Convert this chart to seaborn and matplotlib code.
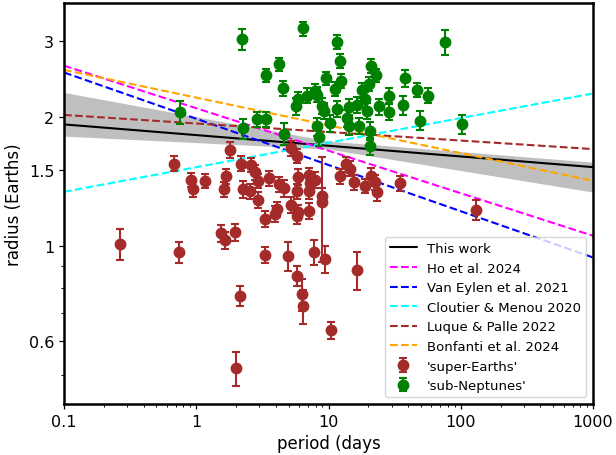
import numpy as np
import matplotlib
matplotlib.use('Agg')
import matplotlib.pyplot as plt
import seaborn as sns
from matplotlib.ticker import NullFormatter

sns.set_style('ticks', {'axes.edgecolor': 'black', 'text.color': 'black',
                        'xtick.color': 'black', 'ytick.color': 'black',
                        'axes.labelcolor': 'black'})
plt.rcParams['font.family'] = ['DejaVu Sans']

# ---- radius-valley relations (radius at P=0.1 d and P=1000 d) ----
rel_period = [0.1, 1000]
this_work = [1.920, 1.527]
ho2024 = [2.63, 1.057]
vaneylen2021 = [2.536, 0.941]
cloutier2020 = [1.338, 2.266]
luque2022 = [2.02, 1.682]
bonfanti2024 = [2.572, 1.419]

band_period = [0.1, 10, 1000]
band_upper = [2.279, 1.756, 1.568]
band_lower = [1.803, 1.682, 1.336]

# ---- sub-Neptunes ----
sn_period = [0.748, 2.215, 2.255, 3.365, 4.19, 4.525, 2.877, 3.383, 4.573, 6.41,
             11.65, 12.27, 9.53, 12.34, 21.05, 22.96, 37.85, 46.5, 56.3, 75.9,
             36.75, 49.6, 102.1, 28.65, 28.65, 24.1, 20.43, 20.69, 11.11, 11.54,
             14.18, 13.79, 17.08, 16.41, 18.96, 19.46, 17.9, 20.08, 7.94, 8.18,
             6.87, 5.83, 5.70, 8.92, 9.18, 8.15, 10.18, 14.18, 8.41]
sn_radius = [2.047, 3.031, 1.879, 2.500, 2.652, 2.328, 1.975, 1.975, 1.827, 3.211,
             2.988, 2.695, 2.456, 2.421, 2.628, 2.500, 2.456, 2.311, 2.238, 2.984,
             2.129, 1.959, 1.922, 2.238, 2.054, 2.114, 1.709, 1.852, 2.320, 2.089,
             2.106, 1.983, 1.905, 2.129, 2.198, 2.065, 2.307, 2.388, 2.298, 2.252,
             2.238, 2.198, 2.114, 2.118, 2.065, 1.899, 1.933, 1.905, 1.798]
sn_err = [0.125, 0.165, 0.10, 0.09, 0.09, 0.09, 0.08, 0.08, 0.11, 0.12,
          0.11, 0.10, 0.09, 0.09, 0.10, 0.09, 0.11, 0.09, 0.09, 0.20,
          0.11, 0.10, 0.10, 0.09, 0.09, 0.09, 0.08, 0.09, 0.09, 0.09,
          0.09, 0.09, 0.08, 0.09, 0.09, 0.09, 0.09, 0.09, 0.09, 0.09,
          0.09, 0.09, 0.10, 0.09, 0.09, 0.09, 0.09, 0.09, 0.09]

# ---- super-Earths ----
se_period = [0.263, 0.673, 0.735, 0.912, 0.938, 1.155, 1.786, 1.686, 1.62, 1.545,
             1.657, 1.948, 2.178, 2.605, 2.76, 2.928, 2.255, 2.56, 2.928, 3.546,
             3.307, 3.307, 4.076, 3.91, 4.22, 4.573, 4.963, 5.23, 5.20, 5.77,
             5.87, 5.77, 5.87, 5.77, 5.77, 7.07, 7.19, 7.07, 7.07, 7.80,
             7.94, 8.97, 8.92, 9.34, 12.12, 2.125, 2.006, 6.33, 6.44, 10.40,
             13.62, 14.6, 15.47, 18.96, 21.05, 22.57, 23.25, 34.87, 130.3, 16.41]
se_radius = [1.011, 1.557, 0.967, 1.427, 1.357, 1.419, 1.675, 1.453, 1.357, 1.070,
             1.033, 1.076, 1.557, 1.546, 1.484, 1.419, 1.357, 1.341, 1.280, 1.439,
             1.156, 0.954, 1.219, 1.187, 1.394, 1.364, 0.949, 1.249, 1.691, 1.622,
             1.450, 1.341, 1.198, 1.173, 0.853, 1.463, 1.402, 1.345, 1.208, 0.967,
             1.427, 1.264, 1.310, 0.933, 1.455, 0.766, 0.520, 0.773, 0.724, 0.637,
             1.551, 1.515, 1.409, 1.381, 1.458, 1.409, 1.333, 1.400, 1.215, 0.881]
se_err = [0.085, 0.065, 0.053, 0.055, 0.055, 0.05, 0.07, 0.06, 0.055, 0.047,
          0.047, 0.047, 0.065, 0.06, 0.06, 0.055, 0.06, 0.055, 0.055, 0.06,
          0.05, 0.042, 0.05, 0.05, 0.055, 0.06, 0.076, 0.055, 0.07, 0.06,
          0.06, 0.055, 0.05, 0.05, 0.047, 0.06, 0.06, 0.055, 0.05, 0.064,
          0.06, 0.345, 0.055, 0.065, 0.06, 0.042, 0.047, 0.065, 0.066, 0.028,
          0.06, 0.06, 0.055, 0.055, 0.06, 0.055, 0.06, 0.055, 0.067, 0.09]

fig = plt.figure(figsize=(6.16, 4.56), dpi=100)
ax = fig.add_axes([0.1039, 0.1118, 0.8588, 0.8794])

ax.set_xscale('log')
ax.set_yscale('log')

ax.fill_between(band_period, band_lower, band_upper, color='grey', alpha=0.5,
                linewidth=0, zorder=1)

sns.lineplot(x=rel_period, y=this_work, color='black', lw=1.5, label='This work', ax=ax)
sns.lineplot(x=rel_period, y=ho2024, color='magenta', lw=1.5, linestyle='--',
             label='Ho et al. 2024', ax=ax)
sns.lineplot(x=rel_period, y=vaneylen2021, color='blue', lw=1.5, linestyle='--',
             label='Van Eylen et al. 2021', ax=ax)
sns.lineplot(x=rel_period, y=cloutier2020, color='cyan', lw=1.5, linestyle='--',
             label='Cloutier & Menou 2020', ax=ax)
sns.lineplot(x=rel_period, y=luque2022, color='brown', lw=1.5, linestyle='--',
             label='Luque & Palle 2022', ax=ax)
sns.lineplot(x=rel_period, y=bonfanti2024, color='orange', lw=1.5, linestyle='--',
             label='Bonfanti et al. 2024', ax=ax)

ax.errorbar(se_period, se_radius, yerr=se_err, fmt='o', color='brown', ms=7.5,
            capsize=3, elinewidth=1.5, capthick=1.5, label="'super-Earths'", zorder=3)
ax.errorbar(sn_period, sn_radius, yerr=sn_err, fmt='o', color='green', ms=7.5,
            capsize=3, elinewidth=1.5, capthick=1.5, label="'sub-Neptunes'", zorder=3)

ax.set_xlim(0.1, 1000)
ax.set_ylim(0.429, 3.68)

ax.set_xticks([0.1, 1, 10, 100, 1000], labels=['0.1', '1', '10', '100', '1000'])
ax.set_yticks([0.6, 1, 1.5, 2, 3], labels=['0.6', '1', '1.5', '2', '3'])
ax.xaxis.set_minor_formatter(NullFormatter())
ax.yaxis.set_minor_formatter(NullFormatter())
ax.tick_params(which='major', length=3.5, width=0.9, labelsize=11.5, direction='out')
ax.tick_params(which='minor', length=2, width=0.7, direction='out')
for s in ax.spines.values():
    s.set_linewidth(1.8)
    s.set_color('black')

ax.set_xlabel('period (days', fontsize=12)
ax.set_ylabel('radius (Earths)', fontsize=12)

ax.legend(loc='lower right', fontsize=9.5, frameon=True)

fig.savefig('out.png', dpi=100)
